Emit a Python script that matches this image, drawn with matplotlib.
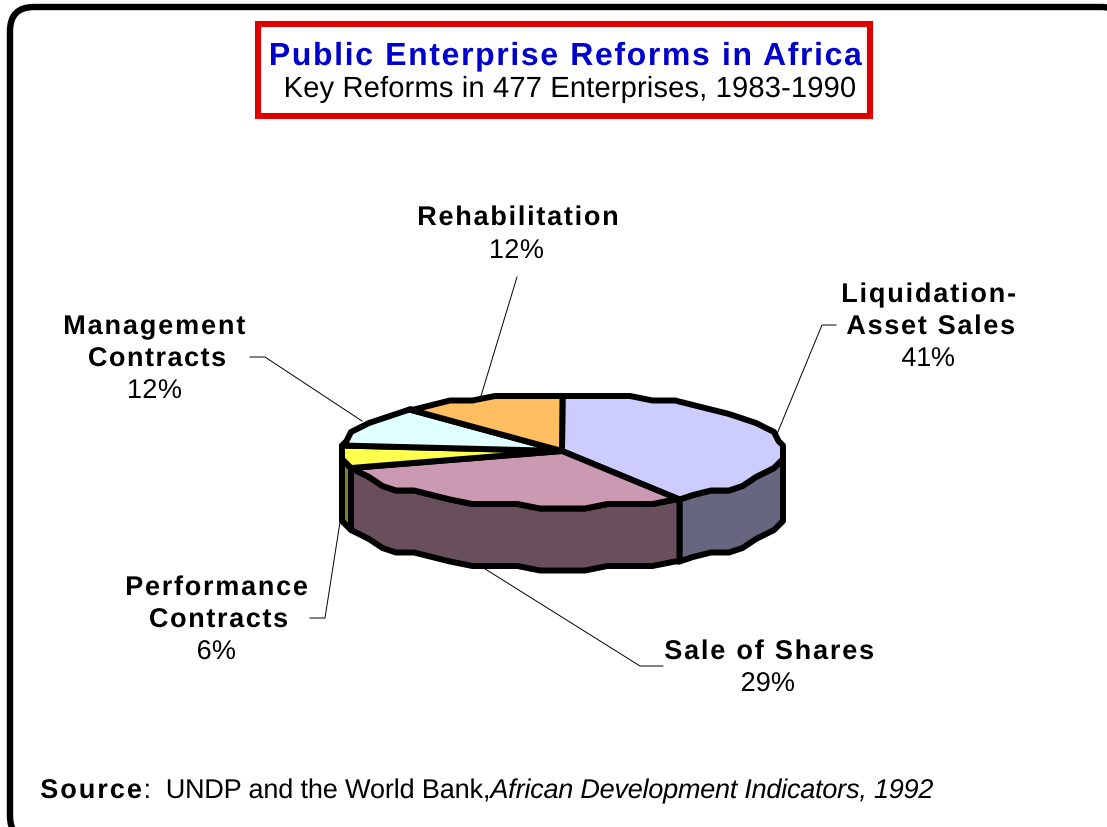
# Pseudo-3D pie of public enterprise reforms, drawn in pixel coordinates
import matplotlib
matplotlib.use('Agg')
import matplotlib.pyplot as plt
import numpy as np
from matplotlib.patches import FancyBboxPatch, Rectangle
from matplotlib.path import Path
from matplotlib.patheffects import AbstractPathEffect

plt.rcParams['font.family'] = ['Liberation Sans', 'DejaVu Sans']

categories = ['Liquidation-Asset Sales', 'Sale of Shares', 'Performance Contracts',
              'Management Contracts', 'Rehabilitation']
shares = [41, 29, 6, 12, 12]
top_colors = ['#CCCCFF', '#CC99B3', '#FFFF4D', '#E0FFFF', '#FFBF60']
side_colors = ['#666680', '#694F5C', '#808026', '#708080', '#806030']

title = 'Public Enterprise Reforms in Africa'
subtitle = 'Key Reforms in 477 Enterprises, 1983-1990'
source_head = 'Source'
source_body = ':  UNDP and the World Bank,'
source_book = 'African Development Indicators, 1992'

W, H = 1107, 827
# ellipse of the pie top and height of the rim
CX, CY, RX, RY, DEPTH = 562, 451, 222, 56, 62
STEP = 6  # degrees per polygon segment
GRID = 4.5  # outline points snap to this many pixels, gives the stepped edge
EDGE = 4.3
BOLD_SIZE = 19.5
PLAIN_SIZE = 19.5


# Letter spacing: moves the glyphs of a string apart until it fills a pixel width
class Tracked(AbstractPathEffect):
    def __init__(self, width_px):
        super().__init__()
        self.width_px = width_px

    def draw_path(self, renderer, gc, tpath, affine, rgbFace=None):
        verts = tpath.vertices.copy()
        codes = tpath.codes
        drawn = codes != Path.CLOSEPOLY
        starts = list(np.where(codes == Path.MOVETO)[0]) + [len(codes)]
        slots = []
        slot = 0
        group_right = None
        for s, e in zip(starts[:-1], starts[1:]):
            keep = codes[s:e] != Path.CLOSEPOLY
            left, right = verts[s:e][keep, 0].min(), verts[s:e][keep, 0].max()
            if group_right is not None and left >= group_right - 2:
                # a wide gap means a space sat between the two glyphs
                slot += 2 if left - group_right > 15 else 1
                group_right = right
            elif group_right is None:
                group_right = right
            else:
                group_right = max(group_right, right)
            slots.append((s, e, slot))
        wanted = self.width_px / affine.get_matrix()[0, 0]
        first = verts[drawn, 0].min()
        extra = (wanted - (verts[drawn, 0].max() - first)) / max(slot, 1)
        for s, e, n in slots:
            verts[s:e, 0] += n * extra - first
        renderer.draw_path(gc, Path(verts, codes), affine, rgbFace)


fig = plt.figure(figsize=(W / 100, H / 100), dpi=100)
ax = fig.add_axes([0, 0, 1, 1])
ax.set_xlim(0, W)
ax.set_ylim(H, 0)
ax.axis('off')


def put_text(left, right, baseline, s, size=PLAIN_SIZE, **kw):
    t = ax.text(left, baseline, s, ha='left', va='baseline', fontsize=size, zorder=6, **kw)
    t.set_path_effects([Tracked(right - left)])
    return t


def rim(a0, a1):
    # points along the ellipse going clockwise from a0 to a1 (degrees),
    # sampled on whole steps so that neighbouring slices share their outline
    inner = np.arange(np.floor(a0 / STEP) * STEP, a1, -STEP)
    inner = inner[inner < a0]
    a = np.radians(np.concatenate([[a0], inner, [a1]]))
    x = CX + RX * np.cos(a)
    y = CY - RY * np.sin(a)
    x = np.round(x / GRID) * GRID
    y = np.round(y / GRID) * GRID
    return x, y


# outer frame runs off the right and bottom edges
ax.add_patch(FancyBboxPatch((10, 7), 1115, 833, boxstyle='round,pad=0,rounding_size=24',
                            fc='white', ec='black', lw=4.6, zorder=1))

# title box
ax.add_patch(Rectangle((258, 23.5), 612, 92, fc='white', ec='#DD0000', lw=4.4, zorder=2))
put_text(271, 862, 65, title, size=23, color='#0000CC', fontweight='bold')
put_text(286, 855, 97, subtitle, size=21, color='black')

# slice boundaries, clockwise from twelve o'clock
bounds = 90 - np.cumsum([0] + shares) * 3.6

# rim first, only the part facing the viewer
for i in range(len(shares)):
    a0, a1 = bounds[i], bounds[i + 1]
    a0_vis, a1_vis = min(a0, 0), max(a1, -180)
    if a0_vis <= a1_vis:
        continue
    x, y = rim(a0_vis, a1_vis)
    xs = np.concatenate([x, x[::-1]])
    ys = np.concatenate([y, y[::-1] + DEPTH])
    ax.fill(xs, ys, fc=side_colors[i], ec='black', lw=EDGE, joinstyle='round', zorder=3)

# then the top of every slice
for i in range(len(shares)):
    x, y = rim(bounds[i], bounds[i + 1])
    xs = np.concatenate([[CX], x])
    ys = np.concatenate([[CY], y])
    ax.fill(xs, ys, fc=top_colors[i], ec='black', lw=EDGE, joinstyle='round', zorder=4)

# leader lines
leaders = [
    [(517, 277), (481, 396)],
    [(836, 325), (822, 325), (777, 434)],
    [(250, 357), (265, 357), (362, 421)],
    [(310, 618), (325, 618), (340, 522)],
    [(663, 666), (640, 666), (482, 567)],
]
for pts in leaders:
    px, py = zip(*pts)
    ax.plot(px, py, color='black', lw=0.7, zorder=2.5)

# category labels: bold name lines with left/right pixel span
bold_lines = [
    (419, 617, 225, 'Rehabilitation'),
    (843, 1015, 302, 'Liquidation-'),
    (847, 1014, 334, 'Asset Sales'),
    (65, 245, 334, 'Management'),
    (89, 225, 366, 'Contracts'),
    (127, 307, 595, 'Performance'),
    (150, 287, 627, 'Contracts'),
    (665, 873, 659, 'Sale of Shares'),
]
for left, right, base, s in bold_lines:
    put_text(left, right, base, s, size=BOLD_SIZE, fontweight='bold', color='black')

# share values under each name
share_spots = {4: (491, 543, 258), 0: (902, 954, 366), 3: (129, 181, 398),
               2: (198, 235, 659), 1: (742, 794, 691)}
for i, (left, right, base) in share_spots.items():
    put_text(left, right, base, f'{shares[i]}%')

# source line
put_text(41, 141, 798, source_head, size=BOLD_SIZE, fontweight='bold')
put_text(146, 488, 798, source_body)
put_text(489, 933, 798, source_book, fontstyle='italic')

fig.savefig('out.png', dpi=100, facecolor='white')
